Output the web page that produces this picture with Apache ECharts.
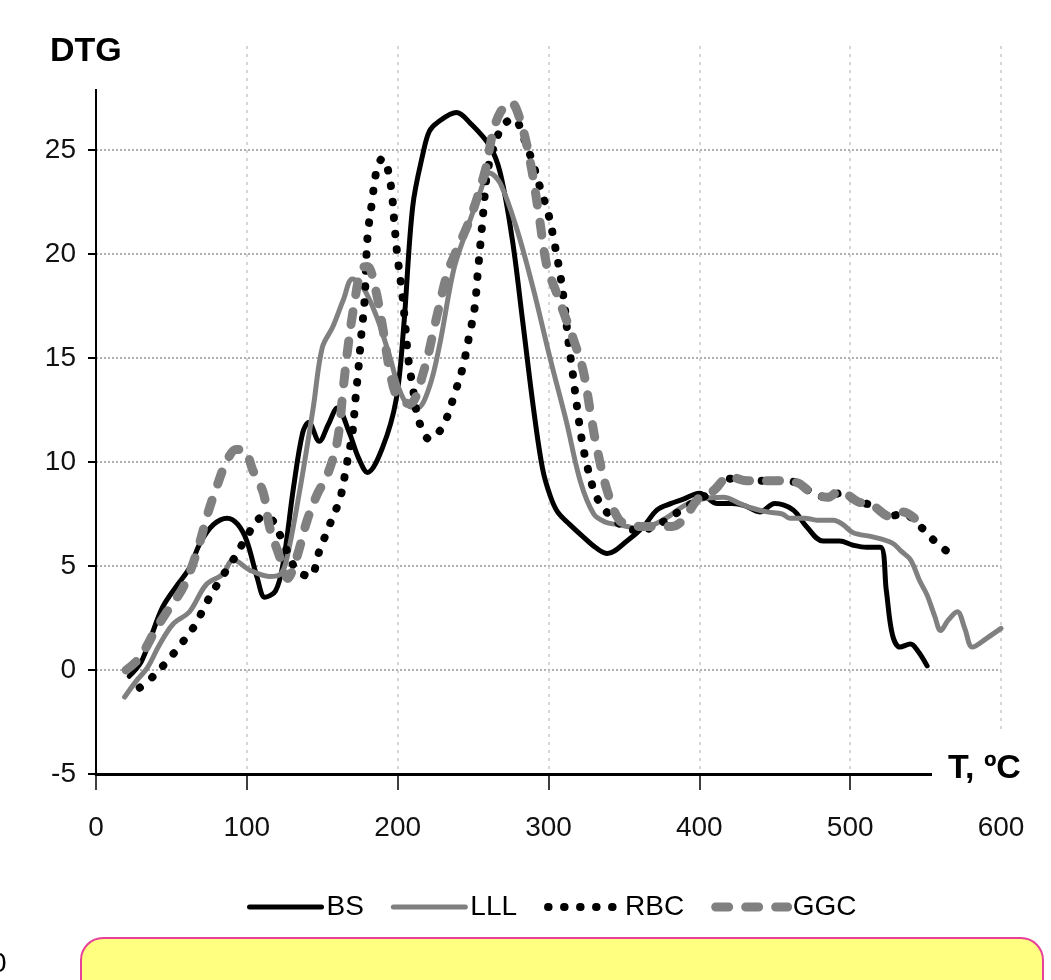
<!DOCTYPE html>
<html>
<head>
<meta charset="utf-8">
<script src="https://cdn.jsdelivr.net/npm/echarts@6/dist/echarts.min.js"></script>
<style>
html,body{margin:0;padding:0;background:#fff;}
#c{width:1051px;height:980px;}
</style>
</head>
<body>
<div id="c"></div>
<script>
const seriesNames = ['BS', 'LLL', 'RBC', 'GGC'];
const xTicks = [0, 100, 200, 300, 400, 500, 600];
const yTicks = [-5, 0, 5, 10, 15, 20, 25];

const bsData = [[22,-0.3],[30,0.4],[36,1.5],[44,3],[53,4],[62,4.9],[69,6.1],[78,7.0],[87,7.3],[94,7.0],[100,6.2],[107,4.4],[112,3.5],[119,3.8],[124,5.1],[131,8.8],[137,11.4],[141,11.9],[148,11],[154,11.8],[160,12.6],[168,11.4],[174,10.2],[180,9.5],[190,10.7],[199,13],[204,16.5],[210,22.3],[217,24.9],[221,25.9],[226,26.3],[239,26.8],[248,26.3],[261,25.2],[268,23.9],[276,20.7],[283,16.7],[290,12.6],[296,9.7],[301,8.4],[306,7.6],[314,7.0],[323,6.4],[331,5.9],[339,5.6],[352,6.2],[363,6.9],[372,7.7],[381,8.0],[389,8.2],[400,8.5],[412,8.0],[422,8.0],[430,7.9],[440,7.6],[450,8.0],[462,7.7],[471,6.9],[482,6.2],[493,6.2],[502,6.0],[511,5.9],[520,5.9],[524,3.8],[528,1.7],[533,1.1],[540,1.25],[545,0.9],[551,0.2]];

const lllData = [[19,-1.3],[27,-0.5],[34,0.1],[42,1.2],[51,2.2],[62,2.8],[73,4.1],[84,4.6],[91,5.3],[102,4.8],[115,4.5],[122,4.6],[126,5.2],[135,8.6],[144,12.6],[150,15.5],[157,16.5],[164,17.8],[170,18.8],[177,18.4],[186,17],[195,15],[201,13.5],[207,12.7],[213,12.6],[221,13.6],[228,15.7],[237,19.2],[245,21],[253,22.6],[261,23.9],[268,23.4],[279,21.2],[290,18.3],[301,15],[312,11.9],[321,9.1],[330,7.5],[338,7.1],[345,7.0],[352,6.9],[360,6.8],[370,7.0],[380,7.4],[390,7.9],[400,8.2],[416,8.3],[427,8.0],[434,7.8],[445,7.6],[455,7.5],[460,7.3],[470,7.3],[478,7.2],[489,7.2],[495,7.0],[502,6.6],[515,6.4],[528,6.1],[534,5.7],[540,5.3],[546,4.3],[551,3.6],[556,2.6],[560,1.9],[565,2.4],[571,2.8],[576,2.0],[581,1.1],[590,1.5],[600,2.0]];

const rbcData = [[29,-0.85],[38,-0.3],[48,0.5],[57,1.3],[66,2.2],[73,3.2],[82,4.3],[91,5.3],[99,6.3],[107,7.2],[112,7.4],[117,7.2],[125,6.0],[133,4.8],[142,4.5],[148,5.7],[155,7.0],[162,8.3],[166,9.8],[170,11.4],[172,13],[174,14.5],[176,16.2],[178,17.7],[180,20.8],[183,22.5],[186,24],[190,24.6],[193,24.2],[196,23],[198,21.3],[200,19.8],[203,18.1],[205,16.6],[207,15],[210,13.6],[214,12],[221,11.1],[228,11.5],[233,12.2],[237,13.1],[243,14.5],[247,15.9],[251,17.4],[253,19],[255,20.6],[257,22.2],[259,23.7],[263,25],[270,26.2],[277,26.5],[284,25.5],[289,24.5],[294,23.3],[300,21.9],[304,20.5],[308,18.9],[311,17.3],[313,15.9],[316,14.3],[319,12.6],[322,11.1],[326,9.7],[332,8.3],[341,7.4],[350,6.9],[360,6.7],[370,6.9],[380,7.3],[390,7.8],[400,8.2],[409,8.6],[420,9.2],[431,9.1],[444,9.1],[451,9.1],[465,9.0],[473,8.6],[485,8.3],[493,8.5],[505,8.1],[515,7.9],[526,7.4],[535,7.5],[548,6.8],[556,6.2],[566,5.6]];

const ggcData = [[20,0],[29,0.6],[40,2],[47,2.8],[58,4],[67,5.7],[74,7.5],[80,8.8],[87,10.1],[93,10.6],[98,10.6],[104,9.6],[111,8.5],[115,6.9],[120,5.8],[124,5.0],[127,4.4],[133,5.4],[140,7.2],[147,8.5],[153,9.3],[160,11],[164,13.6],[167,15.5],[171,17.5],[176,19.3],[180,19.4],[185,18.4],[190,16.5],[195,14.3],[200,13.1],[208,12.8],[217,14.3],[225,16.7],[233,19.1],[238,20],[248,21.7],[258,24],[263,25.8],[268,26.8],[275,27.3],[281,26.5],[288,24.4],[294,21.7],[299,19.4],[305,18.2],[310,17.2],[317,15.8],[323,14.4],[328,12.3],[332,10.7],[339,8.6],[347,7.2],[355,7.0],[361,6.9],[367,6.9],[382,6.9],[389,7.2],[400,8.3],[409,8.6],[420,9.3],[431,9.1],[444,9.1],[451,9.1],[465,9.0],[473,8.6],[485,8.3],[493,8.6],[505,8.1],[515,7.9],[526,7.4],[535,7.6],[548,6.9]];

const FONT = '"Liberation Sans Narrow", "Liberation Sans", Arial, sans-serif';

const styles = {
  BS:  {color: '#000',    width: 5, type: 'solid'},
  LLL: {color: '#808080', width: 5, type: 'solid'},
  RBC: {color: '#000',    width: 8, type: [0.5, 15.5]},
  GGC: {color: '#808080', width: 9, type: [13, 17]}
};
const dataByName = {BS: bsData, LLL: lllData, RBC: rbcData, GGC: ggcData};

const chart = echarts.init(document.getElementById('c'), null, {renderer: 'canvas'});
chart.setOption({
  animation: false,
  backgroundColor: '#fff',
  title: [
    {text: 'DTG', left: 48, top: 33, padding: [2, 14, 20, 2], backgroundColor: '#fff',
     textStyle: {fontFamily: FONT, fontSize: 34, fontWeight: 'bold', color: '#000'}},
    {text: 'T, ºC', left: 932, top: 730, padding: [22, 8, 6, 16], backgroundColor: '#fff',
     textStyle: {fontFamily: FONT, fontSize: 34, fontWeight: 'bold', color: '#000'}}
  ],
  legend: {
    data: seriesNames.map(n => ({
      name: n,
      itemStyle: {opacity: 0},
      lineStyle: {width: styles[n].width, type: styles[n].type, cap: 'round', color: styles[n].color}
    })),
    left: 242, top: 888,
    itemWidth: 72, itemHeight: 14, itemGap: 27,
    textStyle: {fontFamily: FONT, fontSize: 28, color: '#000'}
  },
  grid: {left: 96, right: 50, top: 46, bottom: 206},
  xAxis: {
    type: 'value', min: 0, max: 600, interval: 100,
    axisLine: {show: true, onZero: false, lineStyle: {color: '#000', width: 3}},
    axisTick: {show: true, length: 16, lineStyle: {color: '#000', width: 1.5}},
    axisLabel: {fontFamily: FONT, fontSize: 28, color: '#111', margin: 40,
      customValues: xTicks},
    splitLine: {show: true, showMinLine: false, lineStyle: {color: '#c8c8c8', width: 1.5, type: [3, 5]}}
  },
  yAxis: {
    type: 'value', min: -5, max: 30, interval: 5,
    axisLine: {show: true, onZero: false, lineStyle: {color: '#000', width: 2}},
    axisTick: {show: true, length: 8, lineStyle: {color: '#000', width: 2}, customValues: yTicks},
    axisLabel: {fontFamily: FONT, fontSize: 28, color: '#111', margin: 20, customValues: yTicks},
    splitLine: {show: true, showMinLine: false, lineStyle: {color: '#b0b0b0', width: 2, type: [2, 2]}}
  },
  series: seriesNames.map((n, i) => ({
    name: n, type: 'line', data: dataByName[n], smooth: 0.35, symbol: 'none', z: 2 + i,
    lineStyle: {color: styles[n].color, width: styles[n].width, type: styles[n].type, cap: 'round', join: 'round'},
    itemStyle: {color: styles[n].color}
  })),
  graphic: [
    {type: 'rect', left: 80, top: 937, z: 10,
     shape: {width: 962, height: 80, r: 22},
     style: {fill: '#ffff80', stroke: '#e8409a', lineWidth: 2}},
    {type: 'text', left: -9, top: 950, z: 10,
     style: {text: '0', font: '28px ' + FONT, fill: '#000'}}
  ]
});
</script>
</body>
</html>
